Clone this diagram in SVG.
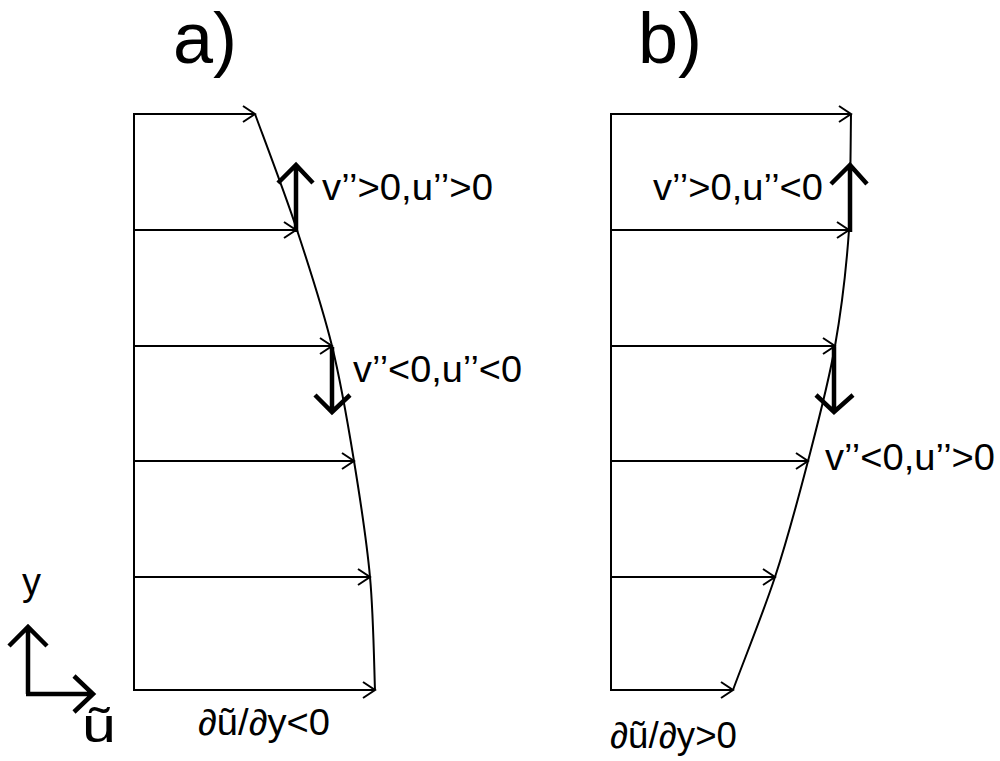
<svg xmlns="http://www.w3.org/2000/svg" width="1000" height="761" viewBox="0 0 1000 761">
<defs>
<marker id="ah" markerUnits="userSpaceOnUse" markerWidth="20" markerHeight="20" viewBox="-14 -10 16 20" refX="0" refY="0" orient="auto" overflow="visible">
<path d="M-12,-8 L0,0 L-12,8" fill="none" stroke="#000" stroke-width="2"/>
</marker>
</defs>
<style>
.thin{fill:none;stroke:#000;stroke-width:2}
.arr{fill:none;stroke:#000;stroke-width:2;marker-end:url(#ah)}
.thick{fill:none;stroke:#000;stroke-width:4.5;stroke-linecap:butt}
.lbl{font-family:"Liberation Sans",Arial,sans-serif;font-size:36px;fill:#000}
.ttl{font-family:"Liberation Sans",Arial,sans-serif;font-size:72px;fill:#000}
</style>
<rect width="1000" height="761" fill="#fff"/>
<g id="title-a"><text class="ttl" x="173" y="63">a)</text></g>
<g id="title-b"><text class="ttl" x="638" y="63">b)</text></g>
<g id="profile-a">
<line class="thin" x1="134" y1="113" x2="134" y2="691"/>
<path class="thin" d="M255,114 C262,133.3 284.2,191.3 297,230 C309.8,268.7 322.5,307.5 332,346 C341.5,384.5 347.7,422.5 354,461 C360.3,499.5 366.5,539 370,577 C373.5,615 374.2,670.3 375,690"/>
</g>
<g id="profile-b">
<line class="thin" x1="611" y1="113" x2="611" y2="691"/>
<path class="thin" d="M851,114 C850.7,133.3 850.5,191 849,230 C846.3,268.7 841.8,307.5 835,346 C828.2,384.5 818,422.5 808,461 C798,499.5 787.5,539 775,577 C762.5,615 740,670.3 733,690"/>
</g>
<g id="connectors">
<line class="arr" x1="134" y1="114" x2="255" y2="114"/>
<line class="arr" x1="134" y1="230" x2="296" y2="230"/>
<line class="arr" x1="134" y1="346" x2="332" y2="346"/>
<line class="arr" x1="134" y1="461" x2="354" y2="461"/>
<line class="arr" x1="134" y1="577" x2="370" y2="577"/>
<line class="arr" x1="134" y1="690" x2="375" y2="690"/>
<line class="arr" x1="611" y1="114" x2="851" y2="114"/>
<line class="arr" x1="611" y1="230" x2="849" y2="230"/>
<line class="arr" x1="611" y1="346" x2="835" y2="346"/>
<line class="arr" x1="611" y1="461" x2="808" y2="461"/>
<line class="arr" x1="611" y1="577" x2="775" y2="577"/>
<line class="arr" x1="611" y1="690" x2="733" y2="690"/>
<path class="thick" d="M296,232 V166 M278,183 L296,165 L313,183"/>
<path class="thick" d="M332,347 V412 M315,395 L332,412 L350,395"/>
<path class="thick" d="M850,232 V166 M831,184 L850,165 L867,184"/>
<path class="thick" d="M834,347 V412 M816,395 L834,412 L853,395"/>
<path class="thick" d="M28,694 V627 M9,646 L28,627 L47,646"/>
<path class="thick" d="M26,694 H93 M74,676 L93,694 L74,712"/>
</g>
<g id="labels">
<text class="lbl" x="322" y="200" textLength="171" lengthAdjust="spacingAndGlyphs">v’’&gt;0,u’’&gt;0</text>
<text class="lbl" x="353" y="382" textLength="169" lengthAdjust="spacingAndGlyphs">v’’&lt;0,u’’&lt;0</text>
<text class="lbl" x="653" y="200" textLength="170" lengthAdjust="spacingAndGlyphs">v’’&gt;0,u’’&lt;0</text>
<text class="lbl" x="825" y="470" textLength="170" lengthAdjust="spacingAndGlyphs">v’’&lt;0,u’’&gt;0</text>
<text class="lbl" x="22" y="595" style="font-size:38px">y</text>
<text class="lbl" x="82" y="742" style="font-size:48px" textLength="34" lengthAdjust="spacingAndGlyphs">ũ</text>
<text class="lbl" x="198" y="735" textLength="132" lengthAdjust="spacingAndGlyphs">∂ũ/∂y&lt;0</text>
<text class="lbl" x="610" y="748" textLength="127" lengthAdjust="spacingAndGlyphs">∂ũ/∂y&gt;0</text>
</g>
</svg>
